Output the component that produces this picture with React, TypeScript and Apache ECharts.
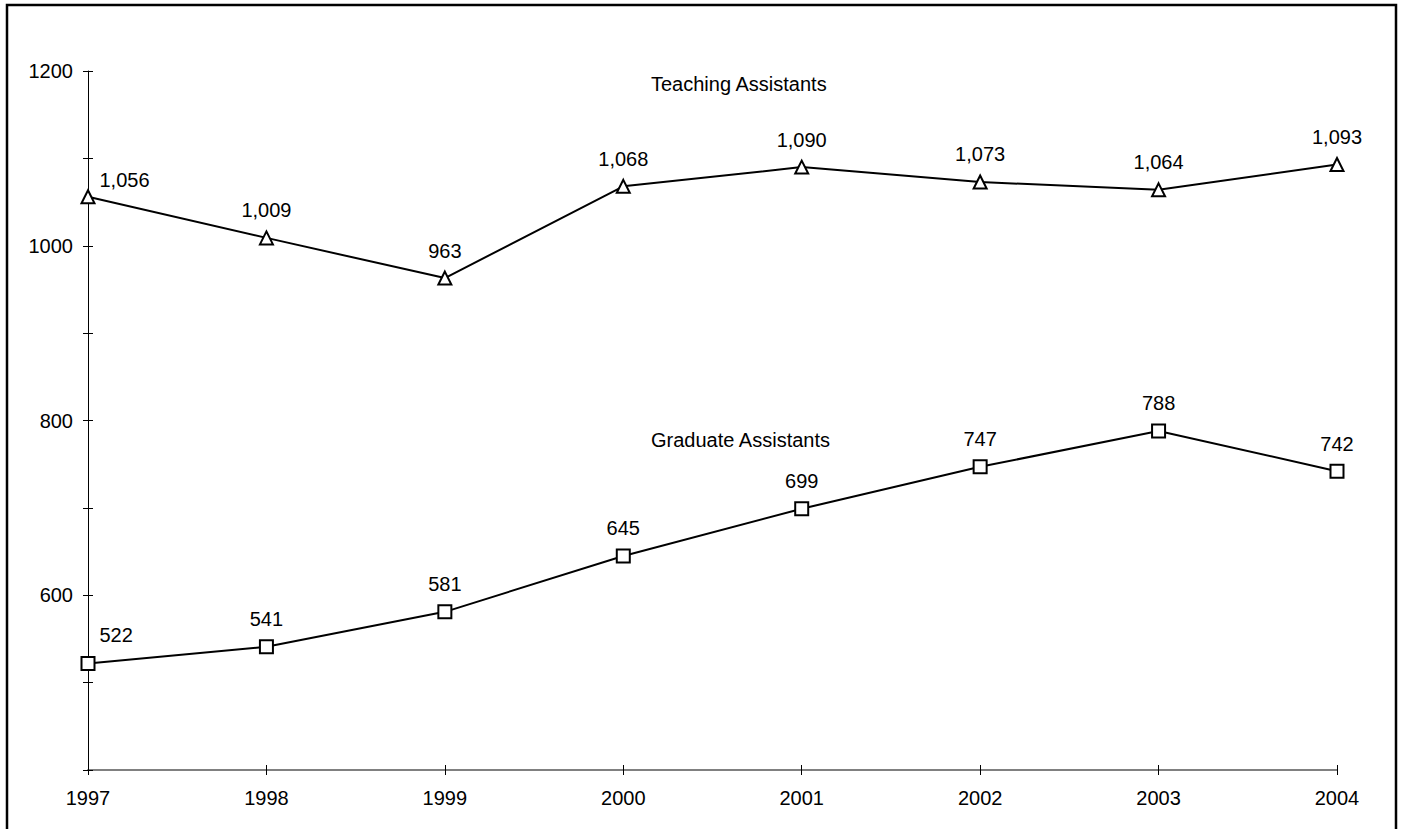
import React, { useEffect, useRef } from "react";
import * as echarts from "echarts";

const years = ["1997", "1998", "1999", "2000", "2001", "2002", "2003", "2004"];
const teachingAssistants = [1056, 1009, 963, 1068, 1090, 1073, 1064, 1093];
const graduateAssistants = [522, 541, 581, 645, 699, 747, 788, 742];
const yTickLabels = [600, 800, 1000, 1200];

const FONT = "'Liberation Sans', Arial, sans-serif";
const FS = 20;

const fmt = (v: number) => v.toLocaleString("en-US");

export default function App() {
  const ref = useRef<HTMLDivElement>(null);
  useEffect(() => {
    if (!ref.current) return;
    const chart = echarts.init(ref.current, null, { renderer: "svg" });

    const makeData = (arr: number[], firstOffset: number[]) =>
      arr.map((v, i) =>
        i === 0
          ? {
              value: v,
              label: { position: "right", distance: 4, offset: firstOffset },
            }
          : { value: v }
      );

    const seriesBase = {
      type: "line",
      xAxisIndex: 0,
      yAxisIndex: 0,
      symbolSize: 13,
      lineStyle: { color: "#000", width: 2 },
      itemStyle: { color: "#fff", borderColor: "#000", borderWidth: 2 },
      label: {
        show: true,
        position: "top",
        distance: 10,
        color: "#000",
        fontFamily: FONT,
        fontSize: FS,
        formatter: (p: any) => fmt(p.value),
      },
      emphasis: { disabled: true },
    };

    chart.setOption({
      animation: false,
      textStyle: { fontFamily: FONT },
      grid: { left: 88, right: 66, top: 71, bottom: 59, containLabel: false },
      graphic: [
        {
          type: "rect",
          shape: { x: 7, y: 5, width: 1389, height: 900 },
          style: { fill: "none", stroke: "#000", lineWidth: 2.5 },
          silent: true,
        },
        {
          type: "text",
          left: 651,
          top: 74,
          style: {
            text: "Teaching Assistants",
            fill: "#000",
            font: `${FS}px ${FONT}`,
          },
          silent: true,
        },
        {
          type: "text",
          left: 651,
          top: 430,
          style: {
            text: "Graduate Assistants",
            fill: "#000",
            font: `${FS}px ${FONT}`,
          },
          silent: true,
        },
      ],
      xAxis: [
        {
          type: "category",
          data: years,
          boundaryGap: false,
          axisLine: { lineStyle: { color: "#808080", width: 2 } },
          axisTick: { show: true, length: 5, lineStyle: { color: "#000", width: 1 } },
          axisLabel: { color: "#000", fontSize: FS, fontFamily: FONT, margin: 18 },
          splitLine: { show: false },
        },
        {
          type: "category",
          data: years,
          boundaryGap: false,
          position: "bottom",
          axisLine: { show: false },
          axisTick: { show: true, inside: true, length: 5, lineStyle: { color: "#000", width: 1 } },
          axisLabel: { show: false },
          splitLine: { show: false },
        },
      ],
      yAxis: [
        {
          type: "value",
          min: 400,
          max: 1200,
          interval: 100,
          axisLine: { show: true, lineStyle: { color: "#000", width: 1 } },
          axisTick: { show: true, length: 5, lineStyle: { color: "#000", width: 1 } },
          axisLabel: {
            color: "#000",
            fontSize: FS,
            fontFamily: FONT,
            margin: 15,
            formatter: (v: number) => (yTickLabels.includes(v) ? String(v) : ""),
          },
          splitLine: { show: false },
        },
        {
          type: "value",
          min: 400,
          max: 1200,
          interval: 100,
          position: "left",
          axisLine: { show: false },
          axisTick: { show: true, inside: true, length: 5, lineStyle: { color: "#000", width: 1 } },
          axisLabel: { show: false },
          splitLine: { show: false },
        },
      ],
      series: [
        {
          ...seriesBase,
          name: "Teaching Assistants",
          symbol: "triangle",
          data: makeData(teachingAssistants, [0, -17]),
        },
        {
          ...seriesBase,
          name: "Graduate Assistants",
          symbol: "rect",
          data: makeData(graduateAssistants, [0, -28]),
        },
      ],
    });

    return () => chart.dispose();
  }, []);

  return (
    <div
      ref={ref}
      style={{ position: "fixed", left: 0, top: 0, width: 1403, height: 829, background: "#fff" }}
    />
  );
}
